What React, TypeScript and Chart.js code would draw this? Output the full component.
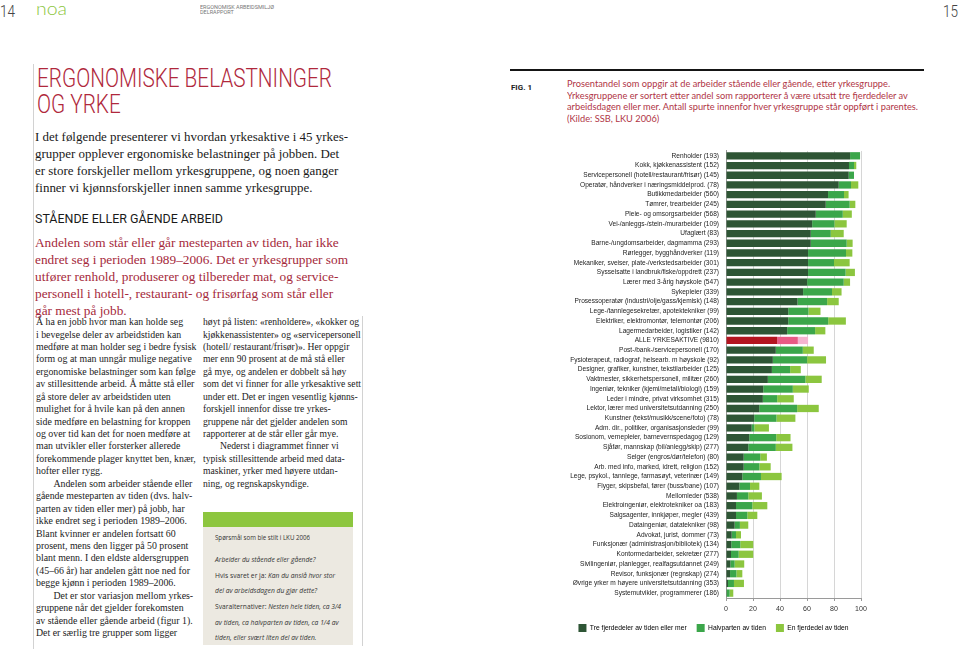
import React, { useEffect, useLayoutEffect, useRef } from "react";
import { Chart, registerables } from "chart.js";
Chart.register(...registerables);

// ---------- DATA ----------
const categories = [
  "Renholder (193)",
  "Kokk, kjøkkenassistent (152)",
  "Servicepersonell (hotell/restaurant/frisør) (145)",
  "Operatør, håndverker i næringsmiddelprod. (78)",
  "Butikkmedarbeider (560)",
  "Tømrer, trearbeider (245)",
  "Pleie- og omsorgsarbeider (568)",
  "Vei-/anleggs-/stein-/murarbeider (109)",
  "Ufaglært (83)",
  "Barne-/ungdomsarbeider, dagmamma (293)",
  "Rørlegger, bygghåndverker (119)",
  "Mekaniker, sveiser, plate-/verkstedsarbeider (301)",
  "Sysselsatte i landbruk/fiske/oppdrett (237)",
  "Lærer med 3-årig høyskole (547)",
  "Sykepleier (339)",
  "Prosessoperatør (industri/olje/gass/kjemisk) (148)",
  "Lege-/tannlegesekretær, apotektekniker (99)",
  "Elektriker, elektromontør, telemontør (206)",
  "Lagermedarbeider, logistiker (142)",
  "ALLE YRKESAKTIVE (9810)",
  "Post-/bank-/servicepersonell (170)",
  "Fysioterapeut, radiograf, helsearb. m høyskole (92)",
  "Designer, grafiker, kunstner, tekstilarbeider (125)",
  "Vaktmester, sikkerhetspersonell, militær (260)",
  "Ingeniør, tekniker (kjemi/metall/biologi) (159)",
  "Leder i mindre, privat virksomhet (315)",
  "Lektor, lærer med universitetsutdanning (250)",
  "Kunstner (tekst/musikk/scene/foto) (78)",
  "Adm. dir., politiker, organisasjonsleder (99)",
  "Sosionom, vernepleier, barnevernspedagog (129)",
  "Sjåfør, mannskap (bil/anlegg/skip) (277)",
  "Selger (engros/dør/telefon) (80)",
  "Arb. med info, marked, idrett, religion (152)",
  "Lege, psykol., tannlege, farmasøyt, veterinær (149)",
  "Flyger, skipsbefal, fører (buss/bane) (107)",
  "Mellomleder (538)",
  "Elektroingeniør, elektrotekniker oa (183)",
  "Salgsagenter, innkjøper, megler (439)",
  "Dataingeniør, datatekniker (98)",
  "Advokat, jurist, dommer (73)",
  "Funksjonær (administrasjon/bibliotek) (134)",
  "Kontormedarbeider, sekretær (277)",
  "Sivilingeniør, planlegger, realfagsutdannet (249)",
  "Revisor, funksjonær (regnskap) (274)",
  "Øvrige yrker m høyere universitetsutdanning (353)",
  "Systemutvikler, programmerer (186)",
];

const threeQuarters = [
  91.9, 91.1, 90.9, 83.5, 75.6, 73.9, 66.5, 63.8, 62.8, 62.8, 60.8, 60.8, 60.8, 60.1, 57.1, 53.0,
  46.1, 46.1, 45.3, 37.9, 36.9, 34.7, 34.0, 31.0, 27.6, 27.3, 24.6, 20.9, 19.0, 17.2, 16.5, 13.1,
  13.1, 12.1, 9.9, 8.1, 7.4, 7.4, 6.4, 4.2, 3.9, 3.7, 3.2, 3.0, 1.5, 0.5,
];
const half = [
  7.4, 3.7, 3.9, 9.1, 11.8, 17.7, 20.0, 16.5, 14.8, 26.6, 28.1, 19.2, 27.8, 27.1, 21.4, 21.9,
  15.0, 29.6, 20.7, 15.3, 20.0, 25.4, 13.5, 27.8, 21.9, 10.6, 28.1, 16.5, 2.0, 20.0, 20.4, 12.3,
  11.6, 13.8, 7.9, 8.4, 12.1, 8.4, 3.9, 3.2, 6.7, 5.7, 3.2, 4.7, 4.4, 2.2,
];
const quarter = [
  0.0, 1.7, 0.0, 5.4, 3.4, 4.2, 6.7, 9.1, 9.6, 4.4, 4.7, 11.6, 6.9, 4.7, 7.1, 8.6,
  8.9, 13.1, 7.6, 7.6, 8.1, 14.0, 7.9, 12.1, 11.8, 12.3, 16.0, 14.0, 10.8, 10.6, 12.3, 4.9,
  8.4, 15.3, 6.9, 10.1, 11.1, 7.4, 6.2, 3.7, 9.6, 10.8, 7.1, 4.4, 7.4, 2.7,
];

const seriesNames = [
  "Tre fjerdedeler av tiden eller mer",
  "Halvparten av tiden",
  "En fjerdedel av tiden",
];
const xTickStep = 20;
const xMax = 100;
const xUnit = "%";

const greens = ["#2e5535", "#3ba64a", "#8cc63f"];
const allColors = ["#b3141f", "#e85a84", "#f5b4d0"];

// ---------- helpers ----------
type FitProps = {
  x: number;
  y: number;
  w: number;
  lh: number;
  font: string;
  size: number;
  color?: string;
  weight?: number;
  children: React.ReactNode;
  extra?: React.CSSProperties;
};

function Fit({ x, y, w, lh, font, size, color = "#222", weight = 400, children, extra }: FitProps) {
  const ref = useRef<HTMLDivElement>(null);
  useLayoutEffect(() => {
    const fit = () => {
      const el = ref.current;
      if (!el) return;
      el.style.transform = "none";
      const nat = el.getBoundingClientRect().width;
      if (nat > 0) el.style.transform = `scaleX(${w / nat})`;
    };
    fit();
    if ((document as any).fonts) (document as any).fonts.ready.then(fit);
  }, [w]);
  return (
    <div
      ref={ref}
      style={{
        position: "absolute",
        left: x,
        top: y,
        width: "max-content",
        whiteSpace: "pre",
        lineHeight: `${lh}px`,
        fontFamily: font,
        fontSize: size,
        color,
        fontWeight: weight,
        transformOrigin: "0 0",
        ...extra,
      }}
    >
      {children}
    </div>
  );
}

function Lines({ lines, indent = 18 }: { lines: string[]; indent?: number }) {
  return (
    <>
      {lines.map((l, i) => (
        <div key={i} style={{ paddingLeft: l.startsWith("\t") ? indent : 0 }}>
          {l.replace("\t", "")}
        </div>
      ))}
    </>
  );
}

// ---------- chart ----------
const CANVAS_LEFT = 566;
const CANVAS_W = 306;

function FigChart() {
  const ref = useRef<HTMLCanvasElement>(null);
  useEffect(() => {
    const canvas = ref.current;
    if (!canvas) return;
    const fam = "'Liberation Sans', Arial, sans-serif";
    const ctx = canvas.getContext("2d")!;
    const widest = (size: number, texts: string[]) => {
      ctx.font = `${size}px ${fam}`;
      return Math.max(...texts.map((t) => ctx.measureText(t).width));
    };
    // size the fonts so the widest texts span the same width as in the figure
    const labelSize = Math.min(8.4, (10 * 149) / widest(10, categories));
    const legendSize = Math.min(8.4, (10 * 97) / widest(10, [seriesNames[0]]));
    const tickSize = Math.min(8, legendSize * 1.05);
    const allIdx = categories.findIndex((c) => c.startsWith("ALLE"));
    const values = [threeQuarters, half, quarter];
    const chart = new Chart(canvas, {
      type: "bar",
      data: {
        labels: categories,
        datasets: seriesNames.map((name, i) => ({
          label: name,
          data: values[i],
          backgroundColor: categories.map((_, j) => (j === allIdx ? allColors[i] : greens[i])),
          borderWidth: 0,
          barPercentage: 0.75,
          categoryPercentage: 1,
        })),
      },
      options: {
        indexAxis: "y",
        responsive: false,
        animation: false,
        layout: { padding: { top: 9, right: 11, left: 0, bottom: 3 } },
        scales: {
          x: {
            stacked: true,
            min: 0,
            max: xMax,
            afterFit: (s: any) => {
              s.height = 16;
            },
            ticks: {
              stepSize: xTickStep,
              font: { family: fam, size: tickSize, lineHeight: 1.2 },
              color: "#333",
              padding: 4,
              callback: (v: any) => (Number(v) === xMax ? [String(v), xUnit] : String(v)),
            },
            grid: { color: "#d6d6d6", tickLength: 3, drawTicks: true, tickColor: "#9a9a9a" },
            border: { color: "#9a9a9a" },
          },
          y: {
            stacked: true,
            afterFit: (s: any) => {
              s.width = 726 - CANVAS_LEFT;
            },
            ticks: {
              autoSkip: false,
              font: { family: fam, size: labelSize },
              color: "#222",
              padding: 7,
            },
            grid: { display: false, drawTicks: false },
            border: { color: "#9a9a9a" },
          },
        },
        plugins: {
          legend: {
            position: "bottom",
            labels: {
              boxWidth: 8,
              boxHeight: 8,
              padding: 10,
              font: { family: fam, size: legendSize },
              color: "#222",
              generateLabels: () =>
                seriesNames.map((t, i) => ({
                  text: t,
                  fillStyle: greens[i],
                  strokeStyle: greens[i],
                  lineWidth: 0,
                  hidden: false,
                  datasetIndex: i,
                })),
            },
          },
          tooltip: { enabled: false },
        },
      } as any,
    });
    return () => chart.destroy();
  }, []);
  return (
    <canvas
      ref={ref}
      width={CANVAS_W}
      height={505}
      style={{ position: "absolute", left: CANVAS_LEFT, top: 140 }}
    />
  );
}

// ---------- page ----------
const serif = "'Liberation Serif', 'DejaVu Serif', serif";
const sans = "Roboto, 'Open Sans', 'Liberation Sans', sans-serif";

const intro = [
  "I det følgende presenterer vi hvordan yrkesaktive i 45 yrkes-",
  "grupper opplever ergonomiske belastninger på jobben. Det",
  "er store forskjeller mellom yrkesgruppene, og noen ganger",
  "finner vi kjønnsforskjeller innen samme yrkesgruppe.",
];
const lead = [
  "Andelen som står eller går mesteparten av tiden, har ikke",
  "endret seg i perioden 1989–2006. Det er yrkesgrupper som",
  "utfører renhold, produserer og tilbereder mat, og service-",
  "personell i hotell-, restaurant- og frisørfag som står eller",
  "går mest på jobb.",
];
const col1 = [
  "Å ha en jobb hvor man kan holde seg",
  "i bevegelse deler av arbeidstiden kan",
  "medføre at man holder seg i bedre fysisk",
  "form og at man unngår mulige negative",
  "ergonomiske belastninger som kan følge",
  "av stillesittende arbeid. Å måtte stå eller",
  "gå store deler av arbeidstiden uten",
  "mulighet for å hvile kan på den annen",
  "side medføre en belastning for kroppen",
  "og over tid kan det for noen medføre at",
  "man utvikler eller forsterker allerede",
  "forekommende plager knyttet ben, knær,",
  "hofter eller rygg.",
  "\tAndelen som arbeider stående eller",
  "gående mesteparten av tiden (dvs. halv-",
  "parten av tiden eller mer) på jobb, har",
  "ikke endret seg i perioden 1989–2006.",
  "Blant kvinner er andelen fortsatt 60",
  "prosent, mens den ligger på 50 prosent",
  "blant menn. I den eldste aldersgruppen",
  "(45–66 år) har andelen gått noe ned for",
  "begge kjønn i perioden 1989–2006.",
  "\tDet er stor variasjon mellom yrkes-",
  "gruppene når det gjelder forekomsten",
  "av stående eller gående arbeid (figur 1).",
  "Det er særlig tre grupper som ligger",
];
const col2 = [
  "høyt på listen: «renholdere», «kokker og",
  "kjøkkenassistenter» og «servicepersonell",
  "(hotell/ restaurant/frisør)». Her oppgir",
  "mer enn 90 prosent at de må stå eller",
  "gå mye, og andelen er dobbelt så høy",
  "som det vi finner for alle yrkesaktive sett",
  "under ett. Det er ingen vesentlig kjønns-",
  "forskjell innenfor disse tre yrkes-",
  "gruppene når det gjelder andelen som",
  "rapporterer at de står eller går mye.",
  "\tNederst i diagrammet finner vi",
  "typisk stillesittende arbeid med data-",
  "maskiner, yrker med høyere utdan-",
  "ning, og regnskapskyndige.",
];
const caption = [
  "Prosentandel som oppgir at de arbeider stående eller gående, etter yrkesgruppe.",
  "Yrkesgruppene er sortert etter andel som rapporterer å være utsatt tre fjerdedeler av",
  "arbeidsdagen eller mer. Antall spurte innenfor hver yrkesgruppe står oppført i parentes.",
  "(Kilde: SSB, LKU 2006)",
];

export default function App() {
  const boxFont = "'Open Sans', Lato, 'Liberation Sans', sans-serif";
  return (
    <div
      style={{
        position: "absolute",
        left: 0,
        top: 0,
        width: 960,
        height: 649,
        background: "#fff",
        overflow: "hidden",
      }}
    >
      {/* header */}
      <Fit x={0} y={0.5} w={15} lh={20} font={sans} size={17} color="#444" weight={300}>
        14
      </Fit>
      <Fit x={36} y={-2} w={31} lh={20} font="Lato, 'Open Sans', sans-serif" size={18} color="#8dc63f" weight={300}>
        noa
      </Fit>
      <Fit x={200} y={4.7} w={74} lh={5.2} font={sans} size={5.5} color="#777">
        {"ERGONOMISK ARBEIDSMILJØ\nDELRAPPORT"}
      </Fit>
      <Fit x={943} y={0.5} w={15} lh={20} font={sans} size={17} color="#444" weight={300}>
        15
      </Fit>

      {/* left page rules */}
      <div style={{ position: "absolute", left: 33, top: 64, width: 1, height: 585, background: "#d2d2d2" }} />
      <div style={{ position: "absolute", left: 362, top: 316, width: 1, height: 330, background: "#d2d2d2" }} />

      {/* title */}
      <Fit x={37} y={66} w={295} lh={26} font={sans} size={25} color="#b0283c" weight={300}>
        {"ERGONOMISKE BELASTNINGER\nOG YRKE"}
      </Fit>
      <Fit x={35} y={129.3} w={313} lh={16.8} font={serif} size={13.3} color="#1a1a1a">
        <Lines lines={intro} />
      </Fit>
      <Fit x={35} y={211.3} w={188} lh={16} font={sans} size={13} color="#1a1a1a">
        STÅENDE ELLER GÅENDE ARBEID
      </Fit>
      <Fit x={35} y={234.2} w={313} lh={17} font={serif} size={13.3} color="#a5293b">
        <Lines lines={lead} />
      </Fit>

      {/* body columns */}
      <Fit x={36} y={316.1} w={160.5} lh={12.44} font={serif} size={10.2} color="#222">
        <Lines lines={col1} indent={18} />
      </Fit>
      <Fit x={202.5} y={316.1} w={158} lh={12.44} font={serif} size={10.2} color="#222">
        <Lines lines={col2} indent={18} />
      </Fit>

      {/* question box */}
      <div style={{ position: "absolute", left: 203, top: 512, width: 150, height: 15, background: "#8dc63f" }} />
      <div style={{ position: "absolute", left: 203, top: 527, width: 150, height: 118, background: "#ece9e1" }} />
      <Fit x={215} y={532} w={95} lh={11.5} font={boxFont} size={7.5} color="#333">
        Spørsmål som ble stilt i LKU 2006
      </Fit>
      <Fit x={215} y={552.2} w={126} lh={15.6} font={boxFont} size={7.5} color="#333">
        <div>
          <i>Arbeider du stående eller gående?</i>
        </div>
        <div>
          Hvis svaret er ja: <i>Kan du anslå hvor stor</i>
        </div>
        <div>
          <i>del av arbeidsdagen du gjør dette?</i>
        </div>
        <div>
          Svaralternativer: <i>Nesten hele tiden, ca 3/4</i>
        </div>
        <div>
          <i>av tiden, ca halvparten av tiden, ca 1/4 av</i>
        </div>
        <div>
          <i>tiden, eller svært liten del av tiden.</i>
        </div>
      </Fit>

      {/* right page */}
      <div style={{ position: "absolute", left: 510, top: 69, width: 414, height: 2, background: "#151515" }} />
      <Fit x={511} y={81.5} w={21} lh={11} font={sans} size={8} color="#222" weight={700}>
        FIG. 1
      </Fit>
      <Fit x={567} y={79.3} w={351} lh={11.5} font="Lato, 'Open Sans', sans-serif" size={8.5} color="#b03545">
        <Lines lines={caption} />
      </Fit>

      <FigChart />
    </div>
  );
}
